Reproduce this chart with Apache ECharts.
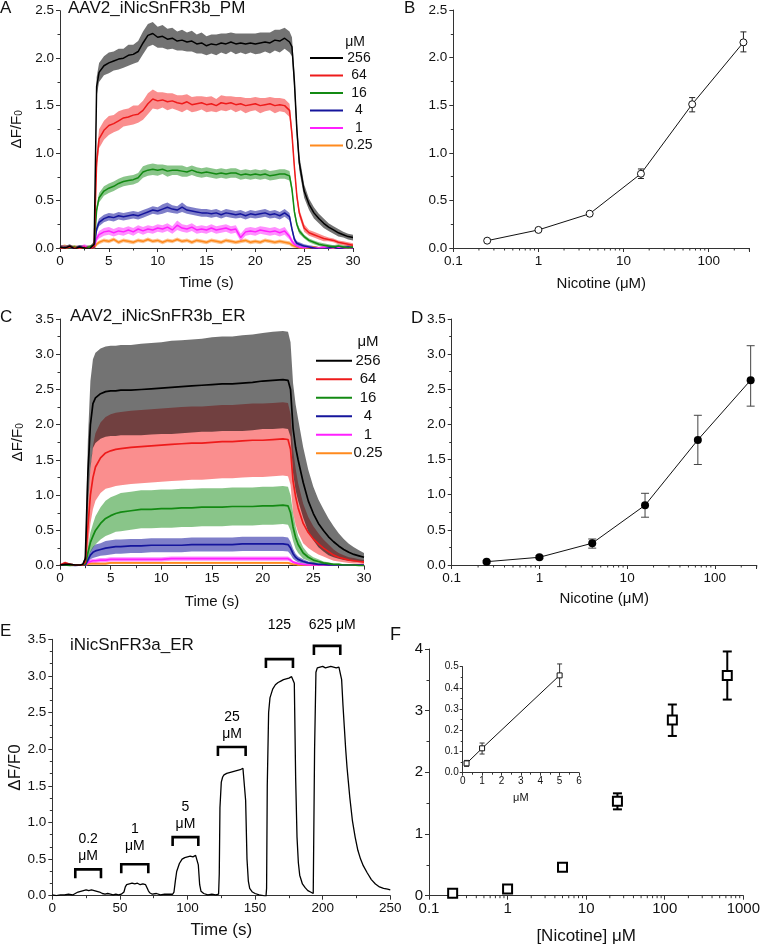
<!DOCTYPE html>
<html><head><meta charset="utf-8">
<script src="https://cdn.jsdelivr.net/npm/echarts@6/dist/echarts.min.js"></script>
<style>html,body{margin:0;padding:0;background:#fff}#c{width:763px;height:947px}</style>
</head><body><div id="c"></div>
<script>
// ---------------- DATA ----------------
const concLabels = ['256','64','16','4','1','0.25'];

// Panel A: time (s)
const tA = [0,0.5,1,1.5,2,2.5,3,3.5,
 3.75,
 4,4.5,5,5.5,6,6.5,7,7.5,8,8.5,
 9,9.5,10,10.5,11,11.5,12,12.5,13,13.5,
 14,14.5,15,15.5,16,16.5,17,17.5,18,18.5,
 19,19.5,20,20.5,21,21.5,22,22.5,23,23.5,
 23.75,24,24.25,24.5,
 25,25.5,26,26.5,27,27.5,28,28.5,29,29.5,30];
const A256 = [0.01,0.00,0.02,-0.01,0.01,0.00,-0.01,0.04,
 1.70,
 1.85,1.92,1.95,1.97,1.99,2.00,2.03,2.04,2.07,2.16,
 2.24,2.26,2.22,2.23,2.20,2.21,2.18,2.19,2.17,2.18,
 2.15,2.16,2.13,2.15,2.14,2.16,2.15,2.17,2.15,2.16,
 2.15,2.16,2.15,2.16,2.17,2.16,2.19,2.18,2.21,2.17,
 2.12,1.75,1.25,0.90,
 0.60,0.46,0.37,0.31,0.26,0.22,0.19,0.16,0.14,0.12,0.11];
const eA256 = [0.02,0.02,0.02,0.02,0.02,0.02,0.02,0.03,
 0.10,
 0.10,0.10,0.11,0.10,0.11,0.10,0.11,0.10,0.11,0.12,
 0.12,0.12,0.11,0.12,0.11,0.11,0.10,0.11,0.10,0.11,
 0.10,0.11,0.10,0.10,0.11,0.10,0.11,0.10,0.11,0.10,
 0.11,0.10,0.11,0.11,0.10,0.11,0.11,0.12,0.11,0.11,
 0.10,0.10,0.09,0.08,
 0.07,0.06,0.06,0.05,0.05,0.04,0.04,0.04,0.03,0.03,0.03];
const A64 = [0.00,-0.01,0.01,0.00,-0.01,0.01,-0.02,0.02,
 0.90,
 1.15,1.24,1.29,1.31,1.34,1.37,1.38,1.40,1.41,1.45,
 1.52,1.57,1.55,1.56,1.54,1.55,1.53,1.52,1.54,1.51,
 1.52,1.53,1.51,1.52,1.50,1.53,1.52,1.53,1.51,1.52,
 1.50,1.51,1.52,1.50,1.51,1.52,1.50,1.51,1.50,1.45,
 1.20,0.85,0.55,0.37,
 0.21,0.16,0.14,0.12,0.10,0.09,0.08,0.06,0.05,0.04,0.03];
const eA64 = [0.02,0.02,0.02,0.02,0.02,0.02,0.02,0.02,
 0.09,
 0.10,0.10,0.10,0.09,0.10,0.09,0.09,0.10,0.09,0.10,
 0.11,0.10,0.09,0.08,0.09,0.08,0.08,0.09,0.08,0.08,
 0.08,0.07,0.08,0.08,0.07,0.08,0.08,0.07,0.08,0.07,
 0.08,0.07,0.07,0.08,0.07,0.07,0.08,0.07,0.07,0.07,
 0.06,0.05,0.05,0.04,
 0.04,0.03,0.03,0.03,0.03,0.02,0.02,0.02,0.02,0.02,0.02];
const A16 = [0.01,-0.01,0.00,0.01,-0.02,0.00,0.01,0.02,
 0.40,
 0.53,0.60,0.63,0.65,0.68,0.70,0.71,0.72,0.74,0.80,
 0.82,0.83,0.82,0.83,0.81,0.82,0.82,0.81,0.80,0.82,
 0.80,0.79,0.80,0.79,0.78,0.79,0.78,0.79,0.79,0.77,
 0.78,0.77,0.78,0.77,0.78,0.76,0.77,0.78,0.78,0.76,
 0.62,0.38,0.25,0.18,
 0.12,0.08,0.06,0.04,0.03,0.02,0.01,0.02,0.01,0.00,0.01];
const eA16 = [0.02,0.02,0.02,0.02,0.02,0.02,0.02,0.02,
 0.04,
 0.05,0.05,0.05,0.05,0.05,0.05,0.05,0.05,0.05,0.06,
 0.06,0.06,0.06,0.05,0.06,0.05,0.05,0.06,0.05,0.05,
 0.05,0.05,0.05,0.05,0.05,0.05,0.05,0.05,0.05,0.05,
 0.05,0.05,0.05,0.05,0.05,0.05,0.05,0.05,0.05,0.05,
 0.04,0.04,0.03,0.03,
 0.02,0.02,0.02,0.02,0.02,0.02,0.02,0.02,0.02,0.02,0.02];
const A4 = [0.00,0.01,-0.01,0.00,0.01,0.00,-0.01,0.01,
 0.20,
 0.27,0.31,0.33,0.32,0.34,0.33,0.34,0.35,0.34,0.36,
 0.38,0.40,0.39,0.41,0.43,0.41,0.40,0.43,0.40,0.39,
 0.38,0.37,0.37,0.36,0.37,0.35,0.37,0.36,0.35,0.36,
 0.34,0.36,0.35,0.36,0.37,0.35,0.36,0.34,0.37,0.33,
 0.20,0.09,0.05,0.04,
 0.02,0.01,0.00,-0.01,-0.01,0.00,0.01,-0.01,0.00,0.01,0.00];
const eA4 = [0.02,0.02,0.02,0.02,0.02,0.02,0.02,0.02,
 0.04,
 0.04,0.04,0.04,0.04,0.04,0.04,0.04,0.04,0.04,0.04,
 0.04,0.04,0.04,0.05,0.05,0.04,0.04,0.05,0.04,0.04,
 0.04,0.04,0.04,0.04,0.04,0.04,0.04,0.04,0.04,0.04,
 0.04,0.04,0.04,0.04,0.04,0.04,0.04,0.04,0.04,0.04,
 0.03,0.03,0.02,0.02,
 0.02,0.02,0.02,0.02,0.02,0.02,0.02,0.02,0.02,0.02,0.02];
const A1 = [0.01,0.00,0.01,-0.01,0.00,0.02,0.00,0.01,
 0.10,
 0.14,0.17,0.18,0.16,0.18,0.17,0.19,0.17,0.20,0.18,
 0.20,0.19,0.21,0.20,0.22,0.19,0.24,0.21,0.20,0.22,
 0.19,0.20,0.19,0.21,0.19,0.20,0.21,0.19,0.20,0.11,
 0.17,0.18,0.17,0.19,0.18,0.17,0.18,0.16,0.18,0.12,
 0.07,0.04,0.02,0.01,
 0.00,0.01,0.00,0.00,0.01,0.00,0.00,0.01,0.00,0.00,0.00];
const eA1 = [0.02,0.02,0.02,0.02,0.02,0.02,0.02,0.02,
 0.03,
 0.04,0.04,0.04,0.04,0.04,0.04,0.04,0.04,0.04,0.04,
 0.04,0.04,0.04,0.04,0.04,0.04,0.05,0.04,0.04,0.04,
 0.04,0.04,0.04,0.04,0.04,0.04,0.04,0.04,0.04,0.04,
 0.04,0.04,0.04,0.04,0.04,0.04,0.04,0.04,0.04,0.03,
 0.03,0.02,0.02,0.02,
 0.01,0.01,0.01,0.01,0.01,0.01,0.01,0.01,0.01,0.01,0.01];
const A025 = [0.00,0.02,-0.01,0.01,0.00,-0.02,0.01,0.00,
 0.04,
 0.06,0.08,0.07,0.09,0.06,0.08,0.07,0.06,0.08,0.07,
 0.09,0.07,0.08,0.06,0.08,0.07,0.09,0.07,0.08,0.06,
 0.08,0.07,0.06,0.08,0.07,0.06,0.08,0.07,0.06,0.07,
 0.08,0.06,0.07,0.06,0.08,0.07,0.06,0.07,0.06,0.05,
 0.03,0.02,0.01,0.00,
 -0.01,0.00,0.01,0.00,-0.01,0.00,0.00,0.01,0.00,0.00,0.00];
const eA025 = [0.02,0.02,0.02,0.02,0.02,0.02,0.02,0.02,
 0.02,
 0.02,0.02,0.02,0.02,0.02,0.02,0.02,0.02,0.02,0.02,
 0.02,0.02,0.02,0.02,0.02,0.02,0.02,0.02,0.02,0.02,
 0.02,0.02,0.02,0.02,0.02,0.02,0.02,0.02,0.02,0.02,
 0.02,0.02,0.02,0.02,0.02,0.02,0.02,0.02,0.02,0.02,
 0.02,0.02,0.01,0.01,
 0.01,0.01,0.01,0.01,0.01,0.01,0.01,0.01,0.01,0.01,0.01];

// Panel C: time (s)
const tC = [0,0.5,1,1.5,2,
 2.25,2.5,2.75,3,3.25,3.5,
 4,4.5,5,5.5,6,
 7,8,9,10,11,12,13,14,
 15,16,17,18,19,20,21,22,
 22.5,22.75,23,23.25,23.5,
 24,24.5,25,25.5,26,26.5,27,27.5,28,28.5,29,29.5,30];
const C256 = [0.01,0.02,0.02,0.01,0.01,
 0.02,0.10,1.30,2.00,2.30,2.38,
 2.44,2.47,2.48,2.48,2.49,
 2.49,2.50,2.51,2.52,2.53,2.54,2.55,2.56,
 2.57,2.58,2.58,2.59,2.60,2.62,2.63,2.64,
 2.63,2.50,1.95,1.68,1.50,
 1.18,0.92,0.74,0.60,0.50,0.41,0.34,0.28,0.23,0.19,0.16,0.14,0.12];
const eC256 = [0.01,0.01,0.01,0.01,0.01,
 0.01,0.05,0.48,0.62,0.63,0.64,
 0.64,0.64,0.64,0.64,0.64,
 0.64,0.65,0.65,0.65,0.66,0.66,0.66,0.66,
 0.67,0.67,0.67,0.68,0.68,0.68,0.69,0.69,
 0.69,0.67,0.64,0.61,0.58,
 0.50,0.44,0.38,0.34,0.30,0.26,0.22,0.18,0.15,0.12,0.10,0.08,0.06];
const C64 = [0.01,0.04,0.02,0.01,0.01,
 0.01,0.05,0.55,1.00,1.25,1.40,
 1.53,1.60,1.63,1.65,1.66,
 1.68,1.69,1.70,1.71,1.72,1.73,1.74,1.74,
 1.75,1.76,1.76,1.77,1.78,1.78,1.79,1.80,
 1.79,1.65,1.20,0.98,0.82,
 0.60,0.47,0.38,0.31,0.25,0.20,0.15,0.12,0.10,0.08,0.07,0.06,0.05];
const eC64 = [0.01,0.02,0.01,0.01,0.01,
 0.01,0.03,0.30,0.40,0.45,0.48,
 0.50,0.51,0.52,0.52,0.52,
 0.52,0.52,0.52,0.52,0.52,0.52,0.52,0.52,
 0.52,0.52,0.52,0.52,0.52,0.52,0.52,0.52,
 0.52,0.50,0.45,0.40,0.35,
 0.28,0.22,0.18,0.15,0.12,0.10,0.08,0.06,0.05,0.04,0.04,0.03,0.03];
const C16 = [0.01,0.01,0.00,0.01,0.01,
 0.01,0.02,0.18,0.33,0.42,0.50,
 0.60,0.67,0.71,0.74,0.76,
 0.78,0.80,0.80,0.81,0.81,0.82,0.82,0.83,
 0.83,0.83,0.84,0.84,0.84,0.85,0.85,0.86,
 0.85,0.75,0.55,0.40,0.30,
 0.18,0.12,0.08,0.06,0.04,0.03,0.02,0.02,0.01,0.01,0.01,0.00,0.00];
const eC16 = [0.01,0.01,0.01,0.01,0.01,
 0.01,0.01,0.08,0.14,0.17,0.20,
 0.23,0.25,0.26,0.26,0.27,
 0.27,0.27,0.27,0.27,0.27,0.27,0.27,0.27,
 0.27,0.27,0.27,0.27,0.27,0.27,0.27,0.27,
 0.27,0.25,0.20,0.16,0.12,
 0.08,0.05,0.04,0.03,0.02,0.02,0.01,0.01,0.01,0.01,0.01,0.01,0.01];
const C4 = [0.01,0.01,0.01,0.00,0.01,
 0.01,0.01,0.08,0.15,0.19,0.21,
 0.23,0.25,0.26,0.27,0.27,
 0.28,0.28,0.29,0.29,0.29,0.29,0.30,0.30,
 0.30,0.30,0.30,0.31,0.31,0.31,0.31,0.31,
 0.30,0.25,0.17,0.12,0.09,
 0.06,0.04,0.03,0.02,0.02,0.01,0.01,0.01,0.01,0.01,0.01,0.01,0.01];
const eC4 = [0.01,0.01,0.01,0.01,0.01,
 0.01,0.01,0.04,0.06,0.08,0.09,
 0.09,0.10,0.10,0.10,0.10,
 0.10,0.10,0.10,0.10,0.10,0.10,0.10,0.10,
 0.10,0.10,0.10,0.10,0.10,0.10,0.10,0.10,
 0.10,0.09,0.07,0.05,0.04,
 0.03,0.02,0.02,0.01,0.01,0.01,0.01,0.01,0.01,0.01,0.01,0.01,0.01];
const C1 = [0.01,0.01,0.01,0.01,0.01,
 0.01,0.01,0.04,0.06,0.07,0.07,
 0.08,0.08,0.09,0.09,0.09,
 0.09,0.09,0.09,0.09,0.10,0.10,0.10,0.10,
 0.10,0.10,0.10,0.10,0.10,0.10,0.10,0.10,
 0.10,0.08,0.05,0.04,0.03,
 0.02,0.01,0.01,0.01,0.01,0.01,0.01,0.01,0.01,0.01,0.01,0.01,0.01];
const eC1 = [0.01,0.01,0.01,0.01,0.01,
 0.01,0.01,0.02,0.03,0.03,0.03,
 0.03,0.03,0.03,0.03,0.03,
 0.03,0.03,0.03,0.03,0.03,0.03,0.03,0.03,
 0.03,0.03,0.03,0.03,0.03,0.03,0.03,0.03,
 0.03,0.03,0.02,0.02,0.02,
 0.01,0.01,0.01,0.01,0.01,0.01,0.01,0.01,0.01,0.01,0.01,0.01,0.01];
const C025 = [0.01,0.01,0.01,0.01,0.01,
 0.01,0.01,0.02,0.03,0.03,0.03,
 0.03,0.03,0.04,0.04,0.04,
 0.04,0.04,0.04,0.04,0.04,0.04,0.04,0.04,
 0.04,0.04,0.04,0.04,0.04,0.04,0.04,0.04,
 0.04,0.03,0.02,0.02,0.01,
 0.01,0.01,0.01,0.01,0.01,0.01,0.01,0.01,0.01,0.01,0.01,0.01,0.01];
const eC025 = [0.01,0.01,0.01,0.01,0.01,
 0.01,0.01,0.01,0.015,0.015,0.015,
 0.015,0.015,0.015,0.015,0.015,
 0.015,0.015,0.015,0.015,0.015,0.015,0.015,0.015,
 0.015,0.015,0.015,0.015,0.015,0.015,0.015,0.015,
 0.015,0.015,0.01,0.01,0.01,
 0.01,0.01,0.01,0.01,0.01,0.01,0.01,0.01,0.01,0.01,0.01,0.01,0.01];

// Panels B and D: dose response
const concBD = [0.25,1,4,16,64,256];
const yB  = [0.077,0.19,0.36,0.78,1.51,2.16];
const loB = [0.065,0.18,0.345,0.73,1.43,2.06];
const hiB = [0.09,0.20,0.375,0.83,1.58,2.27];
const yD  = [0.047,0.11,0.31,0.85,1.78,2.63];
const loD = [0.03,0.09,0.24,0.68,1.43,2.26];
const hiD = [0.06,0.13,0.37,1.02,2.13,3.12];

// Panel E: trace [time s, dF/F0]
const traceE = [
 [0,0.01],[3,0.00],[6,0.01],[9,0.01],[12,0.02],[15,0.01],[17,0.03],[19,0.05],[21,0.06],[23,0.07],[25,0.08],[27,0.07],[29,0.08],[31,0.07],[33,0.06],[35,0.05],[37,0.03],[39,0.02],[41,0.03],[43,0.02],[45,0.01],[47,0.02],[49,0.01],[51,0.02],
 [53,0.05],[54,0.12],[55,0.15],[57,0.16],[59,0.17],[61,0.16],[63,0.17],[65,0.15],[67,0.16],[69,0.15],[70,0.13],[71,0.07],[72,0.04],[74,0.02],[77,0.03],[80,0.01],[83,0.02],[86,0.02],
 [89,0.02],[90,0.05],[91,0.20],[92,0.33],[94,0.44],[96,0.50],[98,0.52],[100,0.53],[102,0.54],[104,0.53],[106,0.55],[107,0.54],[108,0.42],[109,0.15],[110,0.06],[112,0.03],[115,0.01],[118,0.02],[121,0.01],
 [123,0.02],[123.5,0.30],[124,1.20],[125,1.55],[126,1.62],[127,1.65],[129,1.67],[131,1.68],[133,1.69],[135,1.70],[137,1.71],[139,1.72],[141,1.74],[142,1.75],[143,1.30],[144,0.50],[145,0.20],[146,0.10],[148,0.05],[150,0.03],[153,0.01],[156,0.00],[158,-0.02],
 [158.5,0.10],[159,1.50],[160,2.50],[161,2.70],[163,2.82],[165,2.88],[167,2.91],[169,2.93],[171,2.95],[173,2.96],[175,2.97],[177,2.99],[178,3.01],[179,2.90],[180,1.60],[181,0.80],[182,0.45],[183,0.28],[185,0.16],[187,0.11],[189,0.07],[191,0.05],[193,0.03],
 [193.5,0.05],[194,2.00],[195,3.05],[196,3.11],[198,3.12],[200,3.13],[202,3.11],[204,3.12],[206,3.13],[208,3.12],[210,3.11],[212,3.12],[213,3.10],[214,2.95],[215,2.60],[216,2.30],[217,2.00],[218,1.75],[219,1.55],[220,1.35],[222,1.02],[224,0.80],[226,0.62],[228,0.50],[230,0.41],[233,0.31],[236,0.22],[239,0.16],[242,0.12],[245,0.10],[248,0.09],[250,0.08]
];
const bracketStart = [17, 51, 89, 122.5, 158, 193.5];
const bracketEnd   = [36, 71, 108, 143, 178, 213];
const bracketTop   = [0.36, 0.43, 0.80, 2.03, 3.23, 3.41];
const bracketLabel = ['0.2\nμM', '1\nμM', '5\nμM', '25\nμM', '125', '625 μM'];
const bracketLabelX = [26.5, 61, 98.5, 133, 168, 207];
const bracketLabelY = [0.65, 0.79, 1.09, 2.32, 3.70, 3.70];

// Panel F and inset
const concF = [0.2,1,5,25,125,625];
const yF  = [0.04,0.11,0.46,1.53,2.85,3.57];
const loF = [0.02,0.09,0.43,1.40,2.59,3.18];
const hiF = [0.06,0.13,0.49,1.66,3.10,3.96];
const concIn = [0.2,1,5];
const yIn  = [0.044,0.115,0.459];
const loIn = [0.03,0.088,0.406];
const hiIn = [0.058,0.14,0.513];

// log-axis minor tick positions
const logMinor300 = [0.2,0.3,0.4,0.5,0.6,0.7,0.8,0.9,2,3,4,5,6,7,8,9,20,30,40,50,60,70,80,90,200,300];
const logMinor1000 = [0.2,0.3,0.4,0.5,0.6,0.7,0.8,0.9,2,3,4,5,6,7,8,9,20,30,40,50,60,70,80,90,200,300,400,500,600,700,800,900];

// ---------------- STYLE / BUILD ----------------
const FONT = '"Liberation Sans", Arial, Helvetica, sans-serif';
const lineColors = {'256':'#000000','64':'#ee1b1b','16':'#138a13','4':'#15159c','1':'#ff20ff','0.25':'#ff8a1e'};
const bandColors = {'256':'rgba(0,0,0,0.55)','64':'rgba(245,30,30,0.5)','16':'rgba(20,140,20,0.5)','4':'rgba(21,21,156,0.55)','1':'rgba(255,32,255,0.5)','0.25':'rgba(255,138,30,0.5)'};

function merge(a, b) {
  const out = Array.isArray(a) ? a.slice() : Object.assign({}, a);
  for (const k in b) {
    if (b[k] && typeof b[k] === 'object' && !Array.isArray(b[k]) && a[k] && typeof a[k] === 'object') out[k] = merge(a[k], b[k]);
    else out[k] = b[k];
  }
  return out;
}
const AX = {
  axisLine: {show: true, onZero: false, lineStyle: {color: '#333', width: 1}},
  axisTick: {show: true, inside: false, length: 4, lineStyle: {color: '#333', width: 1}},
  minorTick: {show: true, splitNumber: 2, length: 2.5, lineStyle: {color: '#333', width: 1}},
  splitLine: {show: false}, minorSplitLine: {show: false},
  axisLabel: {color: '#111', fontSize: 13.5, fontFamily: FONT, margin: 6},
  nameLocation: 'middle',
  nameTextStyle: {color: '#111', fontSize: 15, fontFamily: FONT}
};
const ax = (o) => merge(AX, o);
const fix1 = (v) => v.toFixed(1);
const decade = (v) => { const l = Math.log10(v); if (Math.abs(l - Math.round(l)) > 1e-6) return ''; return v < 1 ? v.toFixed(1) : String(Math.round(v)); };
const dffRich = {a: {fontSize: 15, fontFamily: FONT, color: '#111', lineHeight: 20, verticalAlign: 'bottom'}, b: {fontSize: 10, fontFamily: FONT, color: '#111', lineHeight: 10, verticalAlign: 'bottom'}};

const grids = [
  {left: 60, top: 10.7, width: 293, height: 237.3},
  {left: 453.3, top: 10, width: 296, height: 238},
  {left: 60, top: 319, width: 304, height: 246.7},
  {left: 451.7, top: 319, width: 305, height: 246},
  {left: 52.3, top: 639.3, width: 338, height: 256.4},
  {left: 429, top: 649, width: 317.7, height: 246.7},
  {left: 462.7, top: 666.7, width: 116.3, height: 106}
];

const xAxis = [
  ax({gridIndex: 0, type: 'value', min: 0, max: 30, interval: 5, name: 'Time (s)', nameGap: 27}),
  ax({gridIndex: 1, type: 'log', logBase: 10, min: 0.1, max: 300, name: 'Nicotine (μM)', nameGap: 28, minorTick: {show: false}, axisLabel: {formatter: decade}}),
  ax({gridIndex: 2, type: 'value', min: 0, max: 30, interval: 5, name: 'Time (s)', nameGap: 29}),
  ax({gridIndex: 3, type: 'log', logBase: 10, min: 0.1, max: 300, name: 'Nicotine (μM)', nameGap: 26, minorTick: {show: false}, axisLabel: {formatter: decade}}),
  ax({gridIndex: 4, type: 'value', min: 0, max: 250, interval: 50, name: 'Time (s)', nameGap: 26, nameTextStyle: {fontSize: 17}}),
  ax({gridIndex: 5, type: 'log', logBase: 10, min: 0.1, max: 1000, name: '[Nicotine] μM', nameGap: 32, minorTick: {show: false}, nameTextStyle: {fontSize: 17}, axisLabel: {formatter: decade, fontSize: 15}}),
  ax({gridIndex: 6, type: 'value', min: 0, max: 6, interval: 1, name: 'μM', nameGap: 20, nameTextStyle: {fontSize: 11}, axisTick: {length: 3}, minorTick: {length: 2}, axisLabel: {fontSize: 10, margin: 4}})
];
const yAxis = [
  ax({gridIndex: 0, type: 'value', min: 0, max: 2.5, interval: 0.5, name: '{a|ΔF/F}{b|0}', nameGap: 36, nameTextStyle: {rich: dffRich}, axisLabel: {formatter: fix1}}),
  ax({gridIndex: 1, type: 'value', min: 0, max: 2.5, interval: 0.5, axisLabel: {formatter: fix1}}),
  ax({gridIndex: 2, type: 'value', min: 0, max: 3.5, interval: 0.5, name: '{a|ΔF/F}{b|0}', nameGap: 35, nameTextStyle: {rich: dffRich}, axisLabel: {formatter: fix1}}),
  ax({gridIndex: 3, type: 'value', min: 0, max: 3.5, interval: 0.5, axisLabel: {formatter: fix1}}),
  ax({gridIndex: 4, type: 'value', min: 0, max: 3.5, interval: 0.5, name: 'ΔF/F0', nameGap: 27, nameTextStyle: {fontSize: 17}, minorTick: {splitNumber: 3}, axisLabel: {formatter: fix1}}),
  ax({gridIndex: 5, type: 'value', min: 0, max: 4, interval: 1, axisLabel: {fontSize: 15}}),
  ax({gridIndex: 6, type: 'value', min: 0, max: 0.5, interval: 0.1, axisTick: {length: 3}, minorTick: {length: 2}, axisLabel: {fontSize: 10, margin: 4, formatter: fix1}})
];

const series = [];
function addBands(gi, t, means, errs) {
  for (let k = means.length - 1; k >= 0; k--) {
    const m = means[k], e = errs[k], col = bandColors[concLabels[k]];
    series.push({
      type: 'custom', name: 'band' + gi + '_' + k, xAxisIndex: gi, yAxisIndex: gi, clip: true, silent: true, z: 1,
      data: [[t[0], m[0]]], encode: {x: 0, y: 1},
      renderItem: function (params, api) {
        const up = [], lo = [];
        for (let i = 0; i < t.length; i++) {
          up.push(api.coord([t[i], m[i] + e[i]]));
          lo.push(api.coord([t[i], m[i] - e[i]]));
        }
        return {type: 'polygon', shape: {points: up.concat(lo.reverse())}, style: {fill: col}};
      }
    });
  }
}
function addLines(gi, t, means, w) {
  for (let k = means.length - 1; k >= 0; k--) {
    const m = means[k], nm = concLabels[k], col = lineColors[nm];
    series.push({
      type: 'line', name: nm, xAxisIndex: gi, yAxisIndex: gi, z: 3, silent: true,
      data: t.map((x, i) => [x, m[i]]), showSymbol: false, symbol: 'none',
      lineStyle: {color: col, width: w}, itemStyle: {color: col}
    });
  }
}
function addErr(gi, xs, lo, hi, cap, col, w, z) {
  series.push({
    type: 'custom', xAxisIndex: gi, yAxisIndex: gi, silent: true, z: z || 2, clip: false,
    data: xs.map((x, i) => [x, lo[i], hi[i]]), encode: {x: 0, y: [1, 2]},
    renderItem: function (params, api) {
      const x = api.value(0);
      const a = api.coord([x, api.value(1)]), b = api.coord([x, api.value(2)]);
      const st = {stroke: col, lineWidth: w};
      return {type: 'group', children: [
        {type: 'line', shape: {x1: a[0], y1: a[1], x2: b[0], y2: b[1]}, style: st},
        {type: 'line', shape: {x1: a[0] - cap, y1: a[1], x2: a[0] + cap, y2: a[1]}, style: st},
        {type: 'line', shape: {x1: b[0] - cap, y1: b[1], x2: b[0] + cap, y2: b[1]}, style: st}
      ]};
    }
  });
}
function addLogMinor(gi, vals) {
  series.push({
    type: 'custom', xAxisIndex: gi, yAxisIndex: gi, silent: true, clip: false, z: 1,
    data: vals.map(v => [v, 0]), encode: {x: 0, y: 1},
    renderItem: function (params, api) {
      const p = api.coord([api.value(0), 0]);
      return {type: 'line', shape: {x1: p[0], y1: p[1], x2: p[0], y2: p[1] + 2.5}, style: {stroke: '#333', lineWidth: 1}};
    }
  });
}

// Panel A
addBands(0, tA, [A256, A64, A16, A4, A1, A025], [eA256, eA64, eA16, eA4, eA1, eA025]);
addLines(0, tA, [A256, A64, A16, A4, A1, A025], 1.5);
// Panel C
addBands(2, tC, [C256, C64, C16, C4, C1, C025], [eC256, eC64, eC16, eC4, eC1, eC025]);
addLines(2, tC, [C256, C64, C16, C4, C1, C025], 1.7);
// Panel B
addLogMinor(1, logMinor300);
addErr(1, concBD, loB, hiB, 3, '#222', 1);
series.push({type: 'line', xAxisIndex: 1, yAxisIndex: 1, z: 4, silent: true, data: concBD.map((x, i) => [x, yB[i]]),
  symbol: 'circle', symbolSize: 7, showSymbol: true, lineStyle: {color: '#111', width: 1},
  itemStyle: {color: '#fff', borderColor: '#111', borderWidth: 1}});
// Panel D
addLogMinor(3, logMinor300);
addErr(3, concBD, loD, hiD, 4, '#444', 1);
series.push({type: 'line', xAxisIndex: 3, yAxisIndex: 3, z: 4, silent: true, data: concBD.map((x, i) => [x, yD[i]]),
  symbol: 'circle', symbolSize: 8, showSymbol: true, lineStyle: {color: '#111', width: 1},
  itemStyle: {color: '#000', borderColor: '#000', borderWidth: 0}});
// Panel E
series.push({type: 'line', xAxisIndex: 4, yAxisIndex: 4, z: 3, silent: true, data: traceE, showSymbol: false, symbol: 'none',
  lineStyle: {color: '#000', width: 1.3}});
series.push({
  type: 'custom', xAxisIndex: 4, yAxisIndex: 4, silent: true, clip: false, z: 4,
  data: bracketStart.map((s, i) => [s, bracketEnd[i], bracketTop[i]]), encode: {x: [0, 1], y: 2},
  renderItem: function (params, api) {
    const a = api.coord([api.value(0), api.value(2)]), b = api.coord([api.value(1), api.value(2)]);
    return {type: 'polyline', shape: {points: [[a[0], a[1] + 9], [a[0], a[1]], [b[0], b[1]], [b[0], b[1] + 9]]},
      style: {stroke: '#000', lineWidth: 2.6, fill: null}};
  }
});
series.push({
  type: 'custom', xAxisIndex: 4, yAxisIndex: 4, silent: true, clip: false, z: 4,
  data: bracketLabelX.map((x, i) => [x, bracketLabelY[i], i]), encode: {x: 0, y: 1},
  renderItem: function (params, api) {
    const p = api.coord([api.value(0), api.value(1)]);
    return {type: 'text', x: p[0], y: p[1], style: {text: bracketLabel[api.value(2)], align: 'center', verticalAlign: 'middle',
      font: '14px ' + FONT, lineHeight: 17, fill: '#000'}};
  }
});
// Panel F
addLogMinor(5, logMinor1000);
addErr(5, concF, loF, hiF, 4.5, '#000', 2);
series.push({type: 'scatter', xAxisIndex: 5, yAxisIndex: 5, z: 4, silent: true, data: concF.map((x, i) => [x, yF[i]]),
  symbol: 'rect', symbolSize: 9, itemStyle: {color: '#ffffff', borderColor: '#000', borderWidth: 2, opacity: 1}});
// Inset
addErr(6, concIn, loIn, hiIn, 2.5, '#333', 1);
series.push({type: 'line', xAxisIndex: 6, yAxisIndex: 6, z: 4, silent: true, data: concIn.map((x, i) => [x, yIn[i]]),
  symbol: 'rect', symbolSize: 5, showSymbol: true, lineStyle: {color: '#111', width: 1},
  itemStyle: {color: '#fff', borderColor: '#111', borderWidth: 1}});

const legendBase = {
  data: concLabels, orient: 'vertical', icon: 'rect', itemGap: 0, padding: 0, selectedMode: false,
  formatter: '{c|{name}}'
};
const legend = [
  Object.assign({}, legendBase, {left: 310, top: 49.3, itemWidth: 33, itemHeight: 2,
    textStyle: {fontSize: 14, fontFamily: FONT, color: '#111', lineHeight: 17.5, rich: {c: {width: 22, align: 'center', fontSize: 14, fontFamily: FONT, lineHeight: 17.5, color: '#111'}}}}),
  Object.assign({}, legendBase, {left: 316, top: 351.5, itemWidth: 36, itemHeight: 2,
    textStyle: {fontSize: 15, fontFamily: FONT, color: '#111', lineHeight: 18.5, rich: {c: {width: 22, align: 'center', fontSize: 15, fontFamily: FONT, lineHeight: 18.5, color: '#111'}}}})
];

const txt = (s, x, y, size, align) => ({type: 'text', x: x, y: y, silent: true, style: {text: s, font: size + 'px ' + FONT, fill: '#111', align: align || 'left', verticalAlign: 'middle'}});
const graphic = [
  txt('A', 0, 8, 17), txt('B', 404, 8, 17), txt('C', 0, 317.5, 17), txt('D', 411, 318, 17), txt('E', 0, 631, 17), txt('F', 390, 635, 18),
  txt('AAV2_iNicSnFR3b_PM', 68, 8, 17), txt('AAV2_iNicSnFR3b_ER', 70, 316, 17), txt('iNicSnFR3a_ER', 70, 645, 17),
  txt('μM', 355, 42, 14, 'center'), txt('μM', 368, 342, 15, 'center')
];

const chart = echarts.init(document.getElementById('c'), null, {renderer: 'canvas'});
chart.setOption({
  animation: false, backgroundColor: '#fff',
  grid: grids, xAxis: xAxis, yAxis: yAxis, legend: legend, series: series, graphic: graphic
});
</script></body></html>
